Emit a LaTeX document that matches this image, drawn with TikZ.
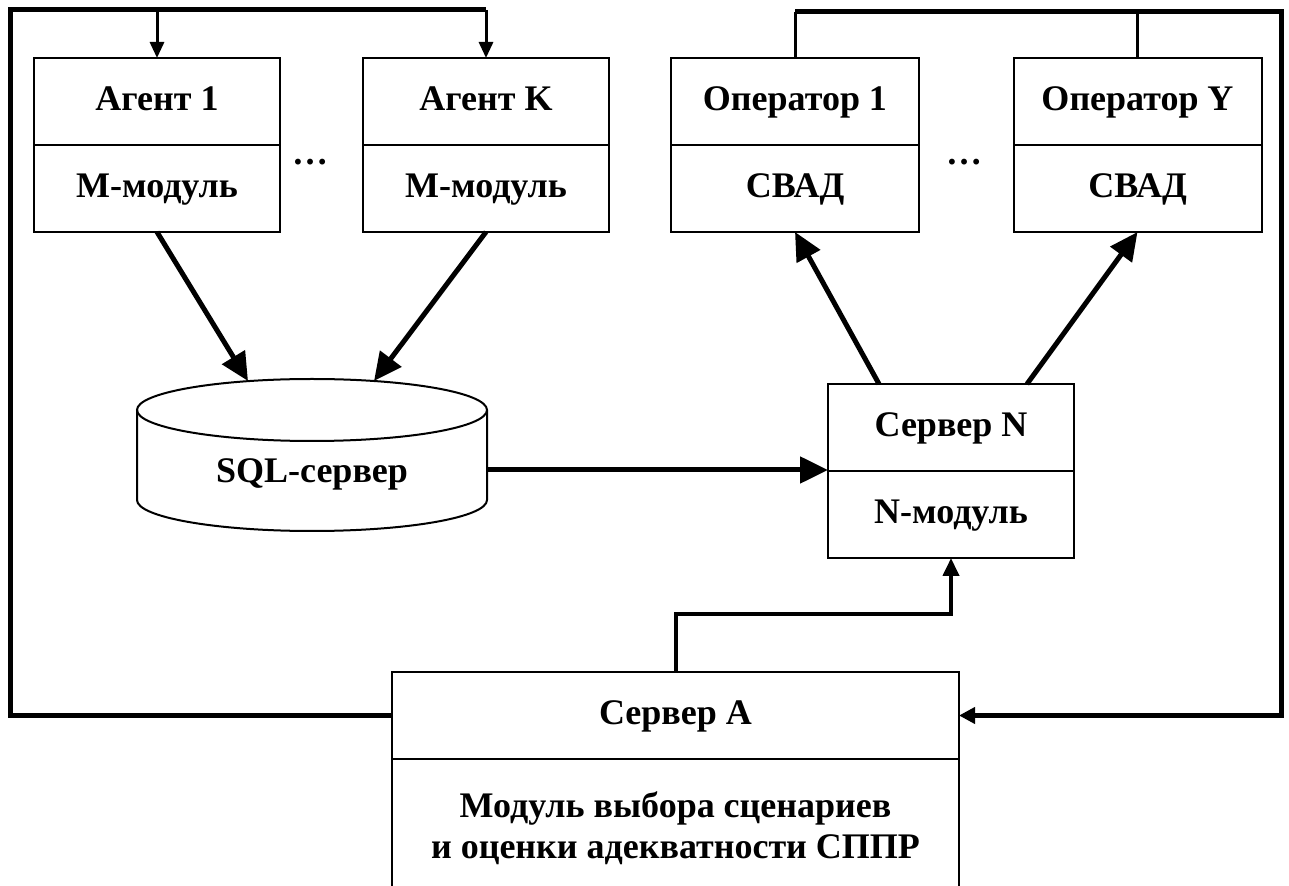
\documentclass[tikz,border=0pt]{standalone}
\usepackage{fontspec}
\setmainfont{Liberation Serif}
\usetikzlibrary{positioning,arrows.meta}
\tikzset{
  part/.style={draw, line width=1pt, minimum width=123pt, minimum height=43.5pt,
    inner sep=0pt, outer sep=0pt, align=center, font=\bfseries\fontsize{18}{20.5}\selectfont},
  cell/.style={part, text height=12.5pt, text depth=3.5pt},
  bigarrow/.style={line width=2.5pt, -{Triangle[length=14pt,width=13pt]}},
  smallarrow/.style={line width=1.5pt, -{Triangle[length=8pt,width=7pt]}},
  loopline/.style={line width=2.5pt},
  link/.style={line width=1.5pt},
}
\begin{document}
\begin{tikzpicture}[x=0.5pt,y=-0.5pt]
\clip (0,0) rectangle (1289,886);
% agents
\node[cell] (ag1) at (157,101.5) {Агент 1};
\node[cell, below=0pt of ag1] (ag1m) {М-модуль};
\node[cell] (agK) at (486,101.5) {Агент K};
\node[cell, below=0pt of agK] (agKm) {М-модуль};
\node[font=\bfseries\fontsize{18}{20}\selectfont] (gap1) at (310,162) {…};
% operators
\node[cell, minimum width=124pt] (op1) at (795,101.5) {Оператор 1};
\node[cell, minimum width=124pt, below=0pt of op1] (op1m) {СВАД};
\node[cell, minimum width=124pt] (opY) at (1137.5,101.5) {Оператор Y};
\node[cell, minimum width=124pt, below=0pt of opY] (opYm) {СВАД};
\node[font=\bfseries\fontsize{18}{20}\selectfont] (gap2) at (964,162) {…};
% servers
\node[cell] (srvN) at (951,427.5) {Сервер N};
\node[cell, below=0pt of srvN] (srvNm) {N-модуль};
\node[cell, minimum width=283.5pt] (srvA) at (675.5,715.5) {Сервер А};
\node[part, minimum width=283.5pt, minimum height=69pt, below=0pt of srvA] (srvAm)
  {Модуль выбора сценариев\\и оценки адекватности СППР};
% database
\draw[line width=1pt] (137,410) -- (137,500)
  arc[start angle=180, end angle=360, x radius=87.5pt, y radius=15.5pt] -- (487,410);
\draw[line width=1pt] (312,410) ellipse [x radius=87.5pt, y radius=15.5pt];
\node[font=\bfseries\fontsize{18}{20.5}\selectfont] (sql) at (312,474) {SQL-сервер};
\coordinate (db1) at (248,381);
\coordinate (db2) at (374,381);
\coordinate (dbout) at (487,470);
% data flow
\draw[bigarrow] (ag1m.south) -- (db1);
\draw[bigarrow] (agKm.south) -- (db2);
\draw[bigarrow] (dbout) -- (dbout -| srvN.west);
\draw[bigarrow] ([xshift=-36pt]srvN.north) -- (op1m.south);
\draw[bigarrow] ([xshift=38pt]srvN.north) -- (opYm.south);
\draw[line width=2pt, -{Triangle[length=9pt,width=8pt]}] (srvA.north) -- ++(0,-58) -| (srvNm.south);
% feedback loops
\coordinate (tl) at (10,10);
\coordinate (tr) at (1281,12);
\draw[loopline] (srvA.west) -| (tl) -- (tl -| agK.north);
\draw[smallarrow] (tl -| ag1.north) -- (ag1.north);
\draw[smallarrow] (tl -| agK.north) -- (agK.north);
\draw[link] (op1.north) -- (op1.north |- tr);
\draw[link] (opY.north) -- (opY.north |- tr);
\draw[loopline, -{Triangle[length=8pt,width=8pt]}] (op1.north |- tr) -- (tr) |- (srvA.east);
\end{tikzpicture}
\end{document}
